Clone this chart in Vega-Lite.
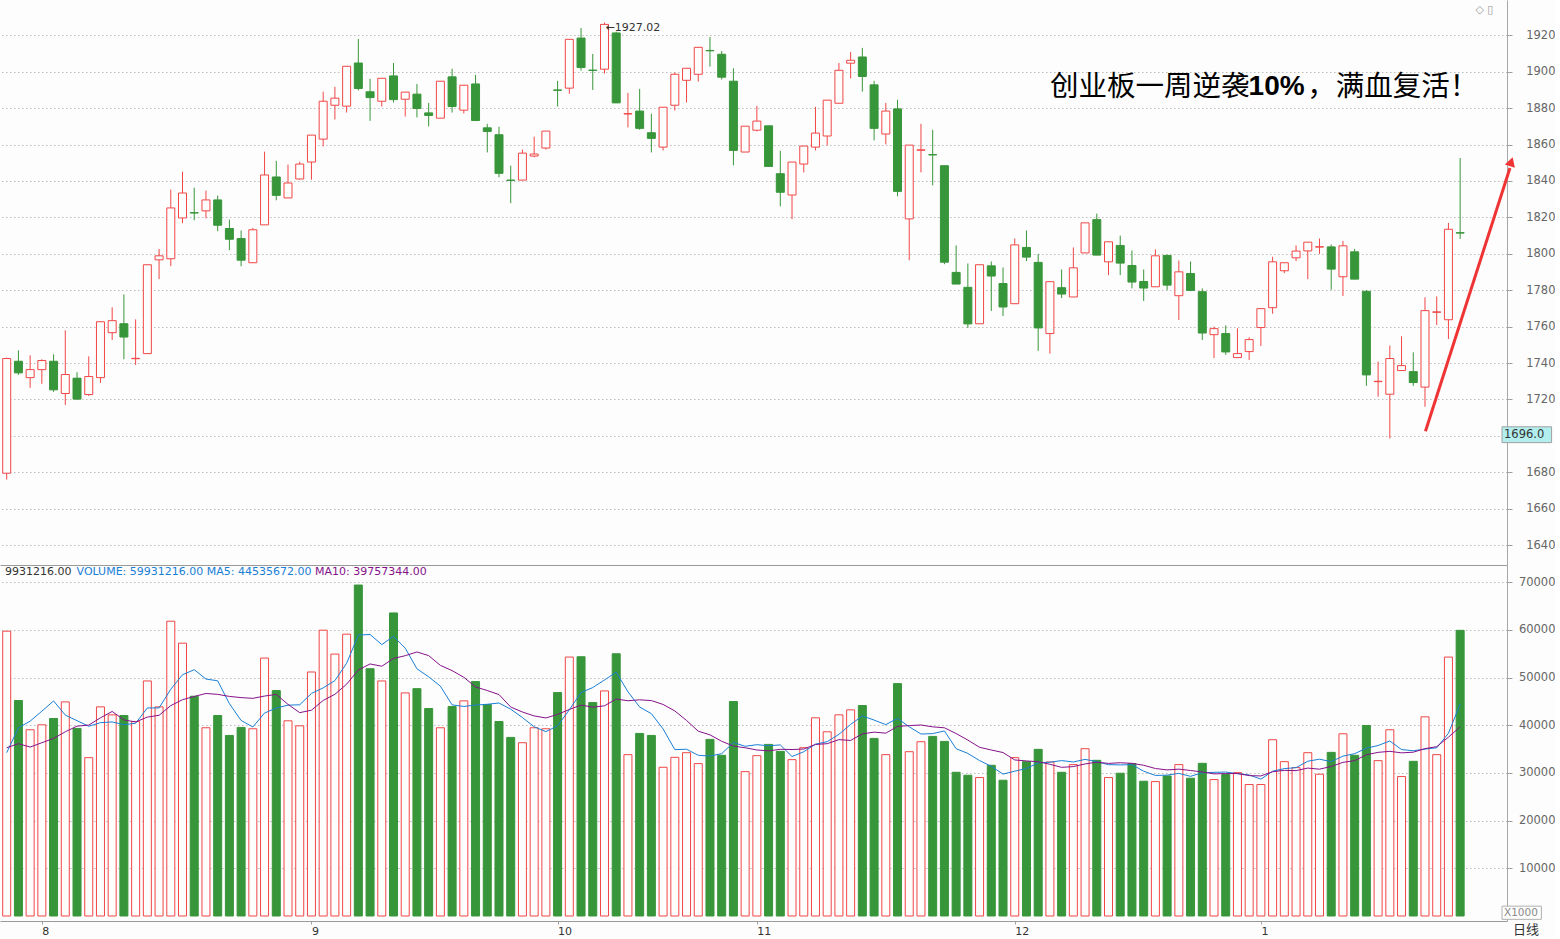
{
"$schema": "https://vega.github.io/schema/vega-lite/v6.json",
"background": "#fdfdfd",
"padding": 0,
"spacing": 0,
"config": {"view": {"stroke": null}, "axis": {"labelFont": "DejaVu Sans", "labelFontSize": 11.5, "labelColor": "#666666", "domainColor": "#a0a0a0", "tickColor": "#a0a0a0", "gridColor": "#bdbdbd", "gridDash": [1.5, 2.5]}},
"datasets": {
"k": [
{"i":0,"o":1679.5,"h":1743,"l":1676,"c":1742.5,"d":"up","v":59750,"m5":34263,"m10":35307},
{"i":1,"o":1741,"h":1747,"l":1733.5,"c":1734.6,"d":"down","v":45200,"m5":39486,"m10":36143},
{"i":2,"o":1732,"h":1744.3,"l":1726.4,"c":1736.4,"d":"up","v":39070,"m5":40878,"m10":35447},
{"i":3,"o":1736.4,"h":1742.1,"l":1728.6,"c":1741.4,"d":"up","v":40110,"m5":42968,"m10":36352},
{"i":4,"o":1741,"h":1744.8,"l":1724.2,"c":1725.3,"d":"down","v":41440,"m5":45114,"m10":37257},
{"i":5,"o":1723.3,"h":1758,"l":1717,"c":1733.7,"d":"up","v":44920,"m5":42148,"m10":38650},
{"i":6,"o":1731.7,"h":1735,"l":1719.8,"c":1720.2,"d":"down","v":39350,"m5":40978,"m10":39834},
{"i":7,"o":1722.7,"h":1743.7,"l":1722,"c":1732.6,"d":"up","v":33220,"m5":39808,"m10":40043},
{"i":8,"o":1732,"h":1762.7,"l":1729.1,"c":1762.7,"d":"up","v":43870,"m5":40560,"m10":41575},
{"i":9,"o":1756.7,"h":1770.6,"l":1752.7,"c":1763.3,"d":"up","v":42200,"m5":40712,"m10":42913},
{"i":10,"o":1761.6,"h":1777.7,"l":1742.1,"c":1754.3,"d":"down","v":42060,"m5":40140,"m10":41144},
{"i":11,"o":1742.4,"h":1764,"l":1739,"c":1742.6,"d":"up","v":40810,"m5":40432,"m10":40705},
{"i":12,"o":1745.2,"h":1794,"l":1745.2,"c":1794,"d":"up","v":49310,"m5":43650,"m10":41729},
{"i":13,"o":1796.7,"h":1802.7,"l":1786.1,"c":1798.9,"d":"up","v":43870,"m5":43650,"m10":42105},
{"i":14,"o":1797.3,"h":1835.3,"l":1793.2,"c":1825.2,"d":"up","v":61840,"m5":47578,"m10":44145},
{"i":15,"o":1819.7,"h":1845.1,"l":1816.8,"c":1833.4,"d":"up","v":57240,"m5":50614,"m10":45377},
{"i":16,"o":1822.6,"h":1836.3,"l":1818.4,"c":1822.4,"d":"down","v":46100,"m5":51672,"m10":46052},
{"i":17,"o":1823.6,"h":1834.7,"l":1819.5,"c":1829.6,"d":"up","v":39490,"m5":49708,"m10":46679},
{"i":18,"o":1829.6,"h":1832,"l":1812.4,"c":1815.7,"d":"down","v":42060,"m5":49346,"m10":46498},
{"i":19,"o":1813.9,"h":1818.8,"l":1802,"c":1808,"d":"down","v":37880,"m5":44554,"m10":46066},
{"i":20,"o":1808.4,"h":1812.8,"l":1793.2,"c":1796.5,"d":"down","v":39560,"m5":41018,"m10":45816},
{"i":21,"o":1795.1,"h":1814.2,"l":1795.1,"c":1813.2,"d":"up","v":39280,"m5":39654,"m10":45663},
{"i":22,"o":1815.9,"h":1856.1,"l":1815.9,"c":1843.3,"d":"up","v":54110,"m5":42578,"m10":46143},
{"i":23,"o":1842.2,"h":1851.1,"l":1829.4,"c":1832.1,"d":"down","v":47290,"m5":43624,"m10":46485},
{"i":24,"o":1830.7,"h":1849,"l":1830.7,"c":1838.9,"d":"up","v":40950,"m5":44238,"m10":44396},
{"i":25,"o":1841.1,"h":1850.6,"l":1840.7,"c":1849.3,"d":"up","v":39900,"m5":44306,"m10":42662},
{"i":26,"o":1850.4,"h":1865.2,"l":1840.7,"c":1865.2,"d":"up","v":51190,"m5":46688,"m10":43171},
{"i":27,"o":1863,"h":1889,"l":1859,"c":1883.8,"d":"up","v":59960,"m5":47858,"m10":45218},
{"i":28,"o":1881.6,"h":1891.7,"l":1873.8,"c":1885.5,"d":"up","v":54950,"m5":49390,"m10":46507},
{"i":29,"o":1881.1,"h":1903,"l":1877.6,"c":1903,"d":"up","v":59120,"m5":53024,"m10":48631},
{"i":30,"o":1904.8,"h":1918,"l":1889.7,"c":1890.8,"d":"down","v":69430,"m5":58930,"m10":51618},
{"i":31,"o":1889,"h":1896.1,"l":1873,"c":1885.8,"d":"down","v":51880,"m5":59068,"m10":52878},
{"i":32,"o":1883.8,"h":1896.4,"l":1880.9,"c":1896.4,"d":"up","v":49310,"m5":56938,"m10":52398},
{"i":33,"o":1897.7,"h":1904.8,"l":1883.1,"c":1884.7,"d":"down","v":63580,"m5":58664,"m10":54027},
{"i":34,"o":1884.9,"h":1888.8,"l":1875.4,"c":1888.8,"d":"up","v":46800,"m5":56200,"m10":54612},
{"i":35,"o":1887.7,"h":1893.3,"l":1874.9,"c":1879.8,"d":"down","v":47700,"m5":51854,"m10":55392},
{"i":36,"o":1877.4,"h":1882.9,"l":1870,"c":1876,"d":"down","v":43530,"m5":50184,"m10":54626},
{"i":37,"o":1874.5,"h":1894.8,"l":1874.5,"c":1894.8,"d":"up","v":39490,"m5":48220,"m10":52579},
{"i":38,"o":1897.2,"h":1901.6,"l":1877.6,"c":1880.9,"d":"down","v":43940,"m5":44292,"m10":51478},
{"i":39,"o":1878.9,"h":1892.6,"l":1877.1,"c":1892.6,"d":"up","v":45130,"m5":43958,"m10":50079},
{"i":40,"o":1893.3,"h":1898.3,"l":1873.2,"c":1873.2,"d":"down","v":49170,"m5":44252,"m10":48053},
{"i":41,"o":1869.2,"h":1871.4,"l":1855.7,"c":1867.2,"d":"down","v":44360,"m5":44418,"m10":47301},
{"i":42,"o":1865.4,"h":1869.8,"l":1842,"c":1844.2,"d":"down","v":40810,"m5":44682,"m10":46451},
{"i":43,"o":1840.5,"h":1848.4,"l":1827.8,"c":1840.3,"d":"down","v":37470,"m5":43388,"m10":43840},
{"i":44,"o":1840.5,"h":1857.2,"l":1840.5,"c":1855.3,"d":"up","v":36350,"m5":41632,"m10":42795},
{"i":45,"o":1853.7,"h":1864.3,"l":1853,"c":1854.8,"d":"up","v":39490,"m5":39696,"m10":41974},
{"i":46,"o":1858.1,"h":1867.4,"l":1857.2,"c":1867.4,"d":"up","v":39280,"m5":38680,"m10":41549},
{"i":47,"o":1890,"h":1895,"l":1880.9,"c":1889.8,"d":"down","v":46870,"m5":39892,"m10":42287},
{"i":48,"o":1891,"h":1917.8,"l":1887.9,"c":1917.8,"d":"up","v":54320,"m5":43262,"m10":43325},
{"i":49,"o":1918.5,"h":1924,"l":1900.6,"c":1902.3,"d":"down","v":54390,"m5":46870,"m10":44251},
{"i":50,"o":1900.9,"h":1909.8,"l":1890,"c":1900.7,"d":"down","v":44780,"m5":47928,"m10":43812},
{"i":51,"o":1901.4,"h":1927.02,"l":1899,"c":1926,"d":"up","v":47220,"m5":49516,"m10":44098},
{"i":52,"o":1921.3,"h":1922,"l":1882.9,"c":1882.9,"d":"down","v":55020,"m5":51146,"m10":45519},
{"i":53,"o":1876.8,"h":1888.4,"l":1869.4,"c":1877,"d":"up","v":33850,"m5":47052,"m10":45157},
{"i":54,"o":1878.4,"h":1890.6,"l":1868.1,"c":1868.9,"d":"down","v":38300,"m5":43834,"m10":45352},
{"i":55,"o":1866.5,"h":1876.9,"l":1855.7,"c":1863.4,"d":"down","v":37880,"m5":42454,"m10":45191},
{"i":56,"o":1858.6,"h":1880.5,"l":1856.8,"c":1880.5,"d":"up","v":31200,"m5":39250,"m10":44383},
{"i":57,"o":1881.6,"h":1899.7,"l":1878.7,"c":1898.6,"d":"up","v":33290,"m5":34904,"m10":43025},
{"i":58,"o":1895.3,"h":1901.9,"l":1883.1,"c":1901.9,"d":"up","v":34260,"m5":34986,"m10":41019},
{"i":59,"o":1898.6,"h":1913.4,"l":1894.6,"c":1913.4,"d":"up","v":31970,"m5":33720,"m10":38777},
{"i":60,"o":1911.7,"h":1919.1,"l":1902.8,"c":1911.5,"d":"down","v":37050,"m5":33554,"m10":38004},
{"i":61,"o":1909.6,"h":1911.4,"l":1895.7,"c":1897,"d":"down","v":33710,"m5":34056,"m10":36653},
{"i":62,"o":1894.8,"h":1901.9,"l":1848.6,"c":1856.8,"d":"down","v":44990,"m5":36396,"m10":35650},
{"i":63,"o":1855.9,"h":1870.1,"l":1855.9,"c":1870.1,"d":"up","v":30290,"m5":35602,"m10":35294},
{"i":64,"o":1867.9,"h":1881.3,"l":1867.2,"c":1872.9,"d":"up","v":33640,"m5":35936,"m10":34828},
{"i":65,"o":1870.3,"h":1870.3,"l":1848,"c":1848,"d":"down","v":36000,"m5":35726,"m10":34640},
{"i":66,"o":1844,"h":1856.6,"l":1826.1,"c":1833.8,"d":"down","v":34540,"m5":35892,"m10":34974},
{"i":67,"o":1832.3,"h":1850.4,"l":1819,"c":1850.4,"d":"up","v":32800,"m5":33454,"m10":34925},
{"i":68,"o":1849.3,"h":1859.2,"l":1844.7,"c":1859.2,"d":"up","v":35310,"m5":34458,"m10":35030},
{"i":69,"o":1858.6,"h":1880.7,"l":1856.8,"c":1866.3,"d":"up","v":41580,"m5":36046,"m10":35991},
{"i":70,"o":1864.7,"h":1884.4,"l":1859.5,"c":1884.4,"d":"up","v":38650,"m5":36576,"m10":36151},
{"i":71,"o":1882.7,"h":1904.8,"l":1882.7,"c":1900.8,"d":"up","v":42200,"m5":38108,"m10":37000},
{"i":72,"o":1904.7,"h":1910.9,"l":1896.3,"c":1906.3,"d":"up","v":43250,"m5":40198,"m10":36826},
{"i":73,"o":1908.1,"h":1913.1,"l":1889.1,"c":1897.4,"d":"down","v":44150,"m5":41966,"m10":38212},
{"i":74,"o":1892.8,"h":1895,"l":1862.3,"c":1868.9,"d":"down","v":37260,"m5":41102,"m10":38574},
{"i":75,"o":1865.8,"h":1882.9,"l":1860.1,"c":1878.4,"d":"up","v":33850,"m5":40142,"m10":38359},
{"i":76,"o":1879.6,"h":1884.6,"l":1831.6,"c":1834.3,"d":"down","v":48750,"m5":41452,"m10":39780},
{"i":77,"o":1819.2,"h":1859.7,"l":1796.5,"c":1859.7,"d":"up","v":34470,"m5":39696,"m10":39947},
{"i":78,"o":1856.9,"h":1871.4,"l":1844.7,"c":1857.1,"d":"up","v":36560,"m5":38178,"m10":40072},
{"i":79,"o":1854.5,"h":1868.1,"l":1837.6,"c":1854.3,"d":"down","v":37680,"m5":38262,"m10":39682},
{"i":80,"o":1848.4,"h":1848.4,"l":1794.3,"c":1795.4,"d":"down","v":36630,"m5":38818,"m10":39480},
{"i":81,"o":1789.8,"h":1804.6,"l":1783.4,"c":1783.4,"d":"down","v":30150,"m5":35098,"m10":38275},
{"i":82,"o":1781.6,"h":1794.7,"l":1759.3,"c":1761.5,"d":"down","v":29530,"m5":34110,"m10":36903},
{"i":83,"o":1761.6,"h":1794,"l":1761.6,"c":1794,"d":"up","v":29040,"m5":32606,"m10":35392},
{"i":84,"o":1793.4,"h":1795.8,"l":1768.6,"c":1787.8,"d":"down","v":31620,"m5":31394,"m10":34828},
{"i":85,"o":1783.7,"h":1792.5,"l":1765.8,"c":1770.8,"d":"down","v":28480,"m5":29764,"m10":34291},
{"i":86,"o":1772.6,"h":1808.4,"l":1772.6,"c":1804.9,"d":"up","v":33220,"m5":30378,"m10":32738},
{"i":87,"o":1803.5,"h":1812.8,"l":1796,"c":1798.2,"d":"down","v":32380,"m5":30948,"m10":32529},
{"i":88,"o":1795.3,"h":1800,"l":1746.7,"c":1759.3,"d":"down","v":34960,"m5":32132,"m10":32369},
{"i":89,"o":1756.2,"h":1784.7,"l":1745.2,"c":1784.7,"d":"up","v":32310,"m5":32270,"m10":31832},
{"i":90,"o":1781.4,"h":1791.4,"l":1775.7,"c":1777.9,"d":"down","v":30150,"m5":32604,"m10":31184},
{"i":91,"o":1776.3,"h":1803.5,"l":1776.3,"c":1792.3,"d":"up","v":31760,"m5":32312,"m10":31345},
{"i":92,"o":1800.5,"h":1817,"l":1800.5,"c":1817,"d":"up","v":35100,"m5":32856,"m10":31902},
{"i":93,"o":1818.8,"h":1822.1,"l":1799.3,"c":1799.3,"d":"down","v":32660,"m5":32396,"m10":32264},
{"i":94,"o":1795.6,"h":1806.6,"l":1788.3,"c":1806.6,"d":"up","v":29040,"m5":31742,"m10":32006},
{"i":95,"o":1804.6,"h":1810,"l":1788.3,"c":1794.9,"d":"down","v":29950,"m5":31702,"m10":32153},
{"i":96,"o":1793.6,"h":1801.8,"l":1781,"c":1784.5,"d":"down","v":31970,"m5":31744,"m10":32028},
{"i":97,"o":1784.8,"h":1791.4,"l":1774.1,"c":1781.2,"d":"down","v":28270,"m5":30378,"m10":31617},
{"i":98,"o":1781.9,"h":1802.4,"l":1781.9,"c":1798.9,"d":"up","v":28200,"m5":29486,"m10":30941},
{"i":99,"o":1799.1,"h":1799.6,"l":1780.1,"c":1782.8,"d":"down","v":29390,"m5":29556,"m10":30649},
{"i":100,"o":1777,"h":1796.3,"l":1763.7,"c":1790.1,"d":"up","v":31760,"m5":29918,"m10":30810},
{"i":101,"o":1789.2,"h":1795.8,"l":1779.5,"c":1779.9,"d":"down","v":28900,"m5":29304,"m10":30524},
{"i":102,"o":1779.2,"h":1781,"l":1752.7,"c":1756.5,"d":"down","v":32030,"m5":30056,"m10":30217},
{"i":103,"o":1755.6,"h":1760,"l":1742.8,"c":1758.9,"d":"up","v":28620,"m5":30140,"m10":29813},
{"i":104,"o":1756.2,"h":1760.7,"l":1744.5,"c":1746.1,"d":"down","v":29670,"m5":30196,"m10":29876},
{"i":105,"o":1743,"h":1759.1,"l":1743,"c":1745.2,"d":"up","v":30080,"m5":29860,"m10":29889},
{"i":106,"o":1746.3,"h":1754.2,"l":1741.7,"c":1752.9,"d":"up","v":27580,"m5":29596,"m10":29450},
{"i":107,"o":1759.5,"h":1769.9,"l":1749.4,"c":1769.9,"d":"up","v":27580,"m5":28706,"m10":29381},
{"i":108,"o":1770.4,"h":1798.4,"l":1767.1,"c":1795.6,"d":"up","v":36980,"m5":30378,"m10":30259},
{"i":109,"o":1790.7,"h":1795.1,"l":1789.4,"c":1795.1,"d":"up","v":32380,"m5":30920,"m10":30558},
{"i":110,"o":1797.8,"h":1804.6,"l":1796,"c":1801.5,"d":"up","v":31130,"m5":31130,"m10":30495},
{"i":111,"o":1801.6,"h":1806.4,"l":1786.1,"c":1806.4,"d":"up","v":34260,"m5":32466,"m10":31031},
{"i":112,"o":1803.7,"h":1808.4,"l":1800,"c":1803.9,"d":"up","v":29740,"m5":32898,"m10":30802},
{"i":113,"o":1803.8,"h":1805.1,"l":1780.3,"c":1791.6,"d":"down","v":34330,"m5":32368,"m10":31373},
{"i":114,"o":1787.4,"h":1807.1,"l":1776.8,"c":1804.4,"d":"up","v":38230,"m5":33538,"m10":32229},
{"i":115,"o":1801.1,"h":1802.7,"l":1786.1,"c":1786.1,"d":"down","v":33710,"m5":34054,"m10":32592},
{"i":116,"o":1779.4,"h":1780.1,"l":1727.5,"c":1733.5,"d":"down","v":39970,"m5":35196,"m10":33831},
{"i":117,"o":1729.8,"h":1740.8,"l":1721.5,"c":1730,"d":"up","v":32590,"m5":35766,"m10":34332},
{"i":118,"o":1722.9,"h":1749.6,"l":1698.6,"c":1742.5,"d":"up","v":39070,"m5":36714,"m10":34541},
{"i":119,"o":1735.9,"h":1754.7,"l":1735.9,"c":1738.6,"d":"up","v":29250,"m5":34918,"m10":34228},
{"i":120,"o":1735.3,"h":1745.9,"l":1727.5,"c":1729.3,"d":"down","v":32450,"m5":34666,"m10":34360},
{"i":121,"o":1726.8,"h":1776.1,"l":1716,"c":1768.8,"d":"up","v":41780,"m5":35028,"m10":35112},
{"i":122,"o":1767.9,"h":1776.6,"l":1760.9,"c":1768.1,"d":"up","v":33850,"m5":35280,"m10":35523},
{"i":123,"o":1763.8,"h":1817,"l":1753.2,"c":1813.5,"d":"up","v":54320,"m5":38330,"m10":37522},
{"i":124,"o":1811.6,"h":1852.6,"l":1808.2,"c":1811.4,"d":"down","v":59930,"m5":44466,"m10":39692}
]
},
"vconcat": [
{
"width": 1507,
"height": 565,
"layer": [
{
"data": {"name": "k"},
"mark": {"type": "rule", "strokeWidth": 1, "clip": true},
"encoding": {
"x": {"field": "i", "type": "quantitative", "scale": {"domain": [-0.1441, 127.57], "nice": false, "zero": false}, "axis": {"orient": "bottom", "labels": false, "ticks": false, "grid": false, "domain": true, "domainColor": "#9a9a9a", "title": null}},
"y": {"field": "l", "type": "quantitative", "scale": {"domain": [1629.1, 1939.4], "nice": false, "zero": false}, "axis": {"orient": "right", "title": null, "values": [1640,1660,1680,1700,1720,1740,1760,1780,1800,1820,1840,1860,1880,1900,1920], "format": "d", "labelExpr": "datum.value == 1700 ? '' : datum.label", "grid": true, "tickSize": 5, "labelAlign": "right", "labelPadding": 43, "labelBaseline": "middle", "domainColor": "#a8a8a8"}},
"y2": {"field": "h"},
"stroke": {"field": "d", "type": "nominal", "scale": {"domain": ["up", "down"], "range": ["#f24646", "#38963a"]}, "legend": null}
}
},
{
"data": {"name": "k"},
"mark": {"type": "bar", "size": 8, "strokeWidth": 1, "clip": true},
"encoding": {
"x": {"field": "i", "type": "quantitative"},
"y": {"field": "o", "type": "quantitative"},
"y2": {"field": "c"},
"stroke": {"field": "d", "type": "nominal", "scale": {"domain": ["up", "down"], "range": ["#f24646", "#38963a"]}, "legend": null},
"fill": {"field": "d", "type": "nominal", "scale": {"domain": ["up", "down"], "range": ["#fdfdfd", "#38963a"]}, "legend": null}
}
},
{
"data": {"values": [{"i": 51, "p": 1927.02, "t": "←1927.02"}]},
"mark": {"type": "text", "align": "left", "baseline": "middle", "dx": 1, "dy": 5, "font": "DejaVu Sans", "fontSize": 11, "color": "#333333"},
"encoding": {"x": {"field": "i", "type": "quantitative"}, "y": {"field": "p", "type": "quantitative"}, "text": {"field": "t"}}
},
{
"data": {"values": [{"i": 89.01, "p": 1891.5, "t": "创业板一周逆袭"}, {"i": 110.96, "p": 1891.5, "t": "，满血复活！"}]},
"mark": {"type": "text", "align": "left", "baseline": "middle", "font": "Noto Sans CJK SC", "fontSize": 28.5, "color": "#000000"},
"encoding": {"x": {"field": "i", "type": "quantitative"}, "y": {"field": "p", "type": "quantitative"}, "text": {"field": "t"}}
},
{
"data": {"values": [{"i": 105.95, "p": 1891.5, "t": "10%"}]},
"mark": {"type": "text", "align": "left", "baseline": "middle", "font": "Liberation Sans", "fontSize": 28, "fontWeight": "bold", "color": "#000000"},
"encoding": {"x": {"field": "i", "type": "quantitative"}, "y": {"field": "p", "type": "quantitative"}, "text": {"field": "t"}}
},
{
"data": {"values": [{"i": 121.04, "p": 1702.6, "i2": 128.25, "p2": 1847.1}]},
"mark": {"type": "rule", "color": "#ee3434", "strokeWidth": 3},
"encoding": {"x": {"field": "i", "type": "quantitative"}, "x2": {"field": "i2"}, "y": {"field": "p", "type": "quantitative"}, "y2": {"field": "p2"}}
},
{
"data": {"values": [{"i": 128.36, "p": 1850.6}]},
"mark": {"type": "point", "shape": "triangle-up", "filled": true, "size": 110, "angle": 18, "color": "#ee3434", "opacity": 1},
"encoding": {"x": {"field": "i", "type": "quantitative"}, "y": {"field": "p", "type": "quantitative"}}
},
{
"data": {"values": [{"i": 127.57, "i2": 131.8, "p": 1696.3, "p2": 1705.0}]},
"mark": {"type": "rect", "fill": "#b2eeee", "stroke": "#a0a0a0", "strokeWidth": 1},
"encoding": {"x": {"field": "i", "type": "quantitative"}, "x2": {"field": "i2"}, "y": {"field": "p", "type": "quantitative"}, "y2": {"field": "p2"}}
},
{
"data": {"values": [{"i": 127.57, "p": 1700.6, "t": "1696.0"}]},
"mark": {"type": "text", "align": "left", "baseline": "middle", "dx": 2, "font": "DejaVu Sans", "fontSize": 11.5, "color": "#333333"},
"encoding": {"x": {"field": "i", "type": "quantitative"}, "y": {"field": "p", "type": "quantitative"}, "text": {"field": "t"}}
},
{
"data": {"values": [{"i": 125.3, "p": 1933.7, "t": "◇ ▯"}]},
"mark": {"type": "text", "align": "left", "baseline": "middle", "font": "DejaVu Sans", "fontSize": 11, "color": "#9a9a9a"},
"encoding": {"x": {"field": "i", "type": "quantitative"}, "y": {"field": "p", "type": "quantitative"}, "text": {"field": "t"}}
}
]
},
{
"width": 1507,
"height": 356,
"layer": [
{
"data": {"name": "k"},
"mark": {"type": "bar", "size": 8, "strokeWidth": 1, "clip": true},
"encoding": {
"x": {"field": "i", "type": "quantitative", "scale": {"domain": [-0.1441, 127.57], "nice": false, "zero": false}, "axis": {"orient": "bottom", "title": null, "values": [3, 26, 47, 64, 86, 107], "labelExpr": "datum.value == 3 ? '8' : datum.value == 26 ? '9' : datum.value == 47 ? '10' : datum.value == 64 ? '11' : datum.value == 86 ? '12' : '1'", "labelAlign": "left", "labelFlush": false, "labelPadding": 1, "labelColor": "#333333", "labelFontSize": 11, "tickSize": 3, "grid": false, "domainColor": "#9a9a9a"}},
"y": {"field": "v", "type": "quantitative", "scale": {"domain": [-1049, 73636], "nice": false, "zero": false}, "axis": {"orient": "right", "title": null, "values": [10000,20000,30000,40000,50000,60000,70000], "format": "d", "grid": true, "tickSize": 5, "labelAlign": "right", "labelPadding": 43, "labelBaseline": "middle", "domainColor": "#a8a8a8"}},
"y2": {"datum": 0},
"stroke": {"field": "d", "type": "nominal", "scale": {"domain": ["up", "down"], "range": ["#f24646", "#38963a"]}, "legend": null},
"fill": {"field": "d", "type": "nominal", "scale": {"domain": ["up", "down"], "range": ["#fdfdfd", "#38963a"]}, "legend": null}
}
},
{
"data": {"name": "k"},
"mark": {"type": "line", "color": "#1a7fd6", "strokeWidth": 1, "clip": true},
"encoding": {"x": {"field": "i", "type": "quantitative"}, "y": {"field": "m5", "type": "quantitative"}}
},
{
"data": {"name": "k"},
"mark": {"type": "line", "color": "#86128a", "strokeWidth": 1, "clip": true},
"encoding": {"x": {"field": "i", "type": "quantitative"}, "y": {"field": "m10", "type": "quantitative"}}
},
{
"data": {"values": [{"i": -0.1441, "v": 72160, "t": "9931216.00"}]},
"mark": {"type": "text", "align": "left", "baseline": "middle", "font": "DejaVu Sans", "fontSize": 11, "color": "#333333"},
"encoding": {"x": {"field": "i", "type": "quantitative"}, "y": {"field": "v", "type": "quantitative"}, "text": {"field": "t"}}
},
{
"data": {"values": [{"i": 5.96, "v": 72160, "t": "VOLUME: 59931216.00 MA5: 44535672.00"}]},
"mark": {"type": "text", "align": "left", "baseline": "middle", "font": "DejaVu Sans", "fontSize": 11, "color": "#1a7fd6"},
"encoding": {"x": {"field": "i", "type": "quantitative"}, "y": {"field": "v", "type": "quantitative"}, "text": {"field": "t"}}
},
{
"data": {"values": [{"i": 26.3, "v": 72160, "t": "MA10: 39757344.00"}]},
"mark": {"type": "text", "align": "left", "baseline": "middle", "font": "DejaVu Sans", "fontSize": 11, "color": "#86128a"},
"encoding": {"x": {"field": "i", "type": "quantitative"}, "y": {"field": "v", "type": "quantitative"}, "text": {"field": "t"}}
},
{
"data": {"values": [{"i": 127.57, "i2": 130.93, "v": -700, "v2": 2060}]},
"mark": {"type": "rect", "fill": "#fdfdfd", "stroke": "#b0b0b0", "strokeWidth": 1},
"encoding": {"x": {"field": "i", "type": "quantitative"}, "x2": {"field": "i2"}, "y": {"field": "v", "type": "quantitative"}, "y2": {"field": "v2"}}
},
{
"data": {"values": [{"i": 127.57, "v": 680, "t": "X1000"}]},
"mark": {"type": "text", "align": "left", "baseline": "middle", "dx": 2, "font": "DejaVu Sans", "fontSize": 10.5, "color": "#8a8a8a"},
"encoding": {"x": {"field": "i", "type": "quantitative"}, "y": {"field": "v", "type": "quantitative"}, "text": {"field": "t"}}
},
{
"data": {"values": [{"i": 128.5, "v": -2872, "t": "日线"}]},
"mark": {"type": "text", "align": "left", "baseline": "middle", "font": "Noto Sans CJK SC", "fontSize": 13, "color": "#333333"},
"encoding": {"x": {"field": "i", "type": "quantitative"}, "y": {"field": "v", "type": "quantitative"}, "text": {"field": "t"}}
}
]
}
]
}
